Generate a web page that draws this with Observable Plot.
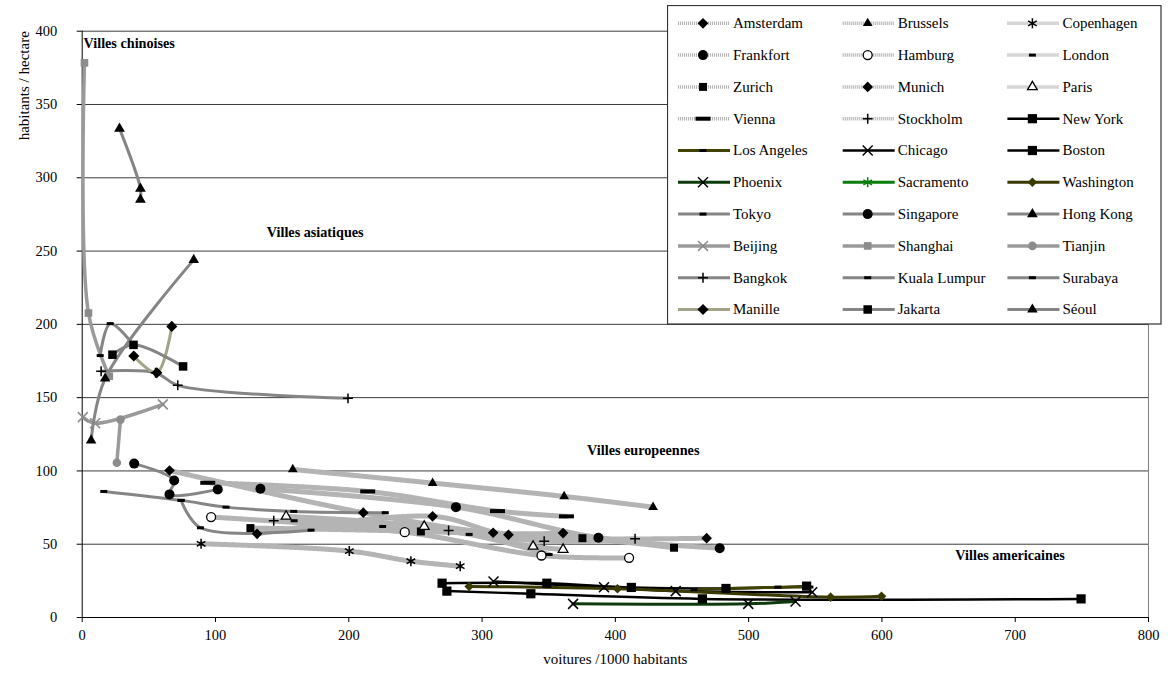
<!DOCTYPE html>
<html><head><meta charset="utf-8">
<script src="https://cdn.jsdelivr.net/npm/d3@7"></script>
<script src="https://cdn.jsdelivr.net/npm/@observablehq/plot@0.6"></script>
<style>
body{margin:0;background:#fff;}
#wrap{position:relative;width:1168px;height:674px;font-family:"Liberation Serif","Times New Roman",serif;}
#legend{position:absolute;left:667px;top:5px;}
</style></head><body><div id="wrap"></div>
<script>
// ---- data: [voitures/1000 habitants, habitants/hectare] ----
const amsterdam = [[65.5,100.3],[210.9,71.5],[308.3,57.8],[360.8,57.6]];
const brussels = [[158,101],[262.9,91.7],[361.6,82.6],[428.3,75.3]];
const copenhagen = [[89.2,50.3],[200.4,45.3],[246.6,38.4],[283.6,35]];
const frankfort = [[133.7,87.8],[280.4,75.3],[387.3,54.4],[478.3,47.3]];
const hamburg = [[96.7,68.5],[242,58.2],[344.6,42.3],[410.3,40.7]];
const london = [[159,66],[225.4,62.1],[290.3,56.7],[350.3,43]];
const zurich = [[126.2,61],[254.1,58.7],[375.3,54.1],[444,47.6]];
const munich = [[131.2,57.1],[262.9,69],[319.8,56.4],[468.5,54.1]];
const paris = [[153,69],[256.6,62.1],[338.3,48.5],[360.8,46.4]];
const vienna = [[94.2,91.9],[214.2,86],[311.6,72.6],[363.3,69]];
const stockholm = [[143.7,66],[274.9,59.4],[346.6,52.1],[414.8,53.7]];
const newYork = [[270,23.4],[348.6,23.4],[412,20.5],[483,19.8],[543.5,21.4]];
const losAngeles = [[459,19],[522,20.7],[546,20.8]];
const chicago = [[308.6,24.6],[391.5,20.7],[445.3,18],[547.7,17.3]];
const boston = [[273.6,18],[336.6,16.2],[465.3,12.7],[749.4,12.7]];
const phoenix = [[368.3,9.3],[499.7,9.3],[535.2,10.9]];
const sacramento = [];
const washington = [[290.3,21.2],[401.6,19.6],[561.5,13.9],[599.7,14.5]];
const tokyo = [[16.2,86],[74.2,79.9],[107.9,75.3],[158.7,72.4],[227.4,71.5]];
const singapore = [[39,105],[69,93.5],[65.5,84],[101.7,87.4]];
const hongKong = [[28,333.5],[43.7,292.6],[43.7,285]];
const beijing = [[0.5,136.7],[9.7,132.6],[60.5,145.4]];
const shanghai = [[1.7,378.4],[4.7,207.7],[20.3,164.6]];
const tianjin = [[28.7,135],[26,105.6]];
const bangkok = [[14.2,168],[55,167],[71.7,158.4],[199.4,149.5]];
const kualaLumpur = [[74.2,79.9],[88.7,61.2],[171.7,59.6]];
const surabaya = [[13.5,178.7],[21,200.5],[38.5,186]];
const manille = [[38.7,178.4],[56,167],[67.2,198.6]];
const jakarta = [[22.7,179.3],[38.5,186],[75.7,171.3]];
const seoul = [[6.7,120.8],[17.2,163],[83.7,244]];

const yTicks = [0,50,100,150,200,250,300,350,400];
const xTicks = [0,100,200,300,400,500,600,700,800];
const regionLabels = ["Villes chinoises","Villes asiatiques","Villes europeennes","Villes americaines"];
const regionX = [1,138.5,378.8,655.1];
const regionY = [391.6,262.6,113.9,42.3];

// ---- styles ----
const dashSmall = {draw(c){c.moveTo(-3.5,-1.5);c.lineTo(3.5,-1.5);c.lineTo(3.5,1.5);c.lineTo(-3.5,1.5);c.closePath();}};
const dashLarge = {draw(c){c.moveTo(-7.5,-2);c.lineTo(7.5,-2);c.lineTo(7.5,2);c.lineTo(-7.5,2);c.closePath();}};
const EURO = {stroke:"#b4b4b4", strokeWidth:5, strokeDasharray:"1.1 0.9"};
const ASIA = {stroke:"#858585", strokeWidth:3};
const CHINA = {stroke:"#9a9a9a", strokeWidth:3.5};
const BLACK = {stroke:"#000", strokeWidth:2.5};
const F = c => ({fill:c, stroke:"none"});
const S = c => ({fill:"none", stroke:c, strokeWidth:1.5});

const series = [
  {name:"Amsterdam", data:amsterdam, line:EURO, sym:"diamond2", r:4.8, ...F("#000")},
  {name:"Brussels", data:brussels, line:EURO, sym:"triangle", r:3.6, ...F("#000")},
  {name:"Copenhagen", data:copenhagen, line:EURO, sym:"asterisk", r:4.7, ...S("#000")},
  {name:"Frankfort", data:frankfort, line:EURO, sym:"circle", r:5, ...F("#000")},
  {name:"Hamburg", data:hamburg, line:EURO, sym:"circle", r:4.5, fill:"#fff", stroke:"#000", strokeWidth:1.3},
  {name:"London", data:london, line:EURO, sym:dashSmall, r:3, ...F("#000")},
  {name:"Zurich", data:zurich, line:EURO, sym:"square", r:4.5, ...F("#000")},
  {name:"Munich", data:munich, line:EURO, sym:"diamond2", r:4.8, ...F("#000")},
  {name:"Paris", data:paris, line:EURO, sym:"triangle", r:3.6, fill:"#fff", stroke:"#000", strokeWidth:1.3},
  {name:"Vienna", data:vienna, line:EURO, sym:dashLarge, r:3, ...F("#000")},
  {name:"Stockholm", data:stockholm, line:EURO, sym:"plus", r:3.3, ...S("#000")},
  {name:"New York", data:newYork, line:BLACK, sym:"square", r:5.2, ...F("#000")},
  {name:"Los Angeles", data:losAngeles, line:{stroke:"#424200", strokeWidth:3}, sym:dashSmall, r:3, ...F("#000")},
  {name:"Chicago", data:chicago, line:BLACK, sym:"times", r:4.6, ...S("#000")},
  {name:"Boston", data:boston, line:BLACK, sym:"square", r:5.2, ...F("#000")},
  {name:"Phoenix", data:phoenix, line:{stroke:"#0d3b0d", strokeWidth:3}, sym:"times", r:4.6, ...S("#000")},
  {name:"Sacramento", data:sacramento, line:{stroke:"#0a7d0a", strokeWidth:3}, sym:"asterisk", r:4.7, ...S("#0a7d0a")},
  {name:"Washington", data:washington, line:{stroke:"#3a3a00", strokeWidth:3}, sym:"diamond2", r:4.3, ...F("#3a3a00")},
  {name:"Tokyo", data:tokyo, line:ASIA, sym:dashSmall, r:3, ...F("#000")},
  {name:"Singapore", data:singapore, line:ASIA, sym:"circle", r:5, ...F("#000")},
  {name:"Hong Kong", data:hongKong, line:ASIA, sym:"triangle", r:4, ...F("#000")},
  {name:"Beijing", data:beijing, line:CHINA, sym:"times", r:4.6, ...S("#8c8c8c")},
  {name:"Shanghai", data:shanghai, line:CHINA, sym:"square", r:4.3, ...F("#8c8c8c")},
  {name:"Tianjin", data:tianjin, line:CHINA, sym:"circle", r:4.3, ...F("#8c8c8c")},
  {name:"Bangkok", data:bangkok, line:ASIA, sym:"plus", r:3.3, ...S("#000")},
  {name:"Kuala Lumpur", data:kualaLumpur, line:ASIA, sym:dashSmall, r:3, ...F("#000")},
  {name:"Surabaya", data:surabaya, line:ASIA, sym:dashSmall, r:3, ...F("#000")},
  {name:"Manille", data:manille, line:{stroke:"#a3a387", strokeWidth:3}, sym:"diamond2", r:5, ...F("#000")},
  {name:"Jakarta", data:jakarta, line:ASIA, sym:"square", r:4.8, ...F("#000")},
  {name:"Séoul", data:seoul, line:ASIA, sym:"triangle", r:3.9, ...F("#000")}
];

const X = d => d[0], Y = d => d[1];
const marks = [
  Plot.gridY(yTicks.filter(d => d > 0), {stroke:"#3c3c3c", strokeOpacity:1}),
  Plot.ruleX([800], {stroke:"#808080"}),
  Plot.ruleX([0], {stroke:"#000"}),
  Plot.ruleY([0], {stroke:"#000"}),
  Plot.axisY({ticks:yTicks, tickSize:5, tickPadding:20, label:null, fontSize:14.5}),
  Plot.axisX({ticks:xTicks, tickSize:5, tickPadding:7, label:null, fontSize:14.5}),
  ...series.map(s => Plot.line(s.data, {x:X, y:Y, curve:"catmull-rom", ...s.line})),
  ...series.map(s => Plot.dot(s.data, {x:X, y:Y, symbol:s.sym, r:s.r, fill:s.fill, stroke:s.stroke, strokeWidth:s.strokeWidth ?? 1})),
  Plot.text(regionLabels, {x:(d,i)=>regionX[i], y:(d,i)=>regionY[i], text:d=>d, textAnchor:"start", fontWeight:"bold", fontSize:14.2}),
  Plot.text(["habitants / hectare"], {frameAnchor:"top-left", rotate:-90, textAnchor:"end", dx:-63.7, dy:0, fontSize:15}),
  Plot.text(["voitures /1000 habitants"], {frameAnchor:"bottom", dy:46, fontSize:15})
];

const chart = Plot.plot({
  width:1168, height:674,
  marginLeft:81.7, marginRight:20, marginTop:30.7, marginBottom:57,
  x:{domain:[0,800]}, y:{domain:[0,400]},
  style:{fontFamily:"'Liberation Serif','Times New Roman',serif", fontSize:"14.5px", color:"#000", background:"#fff"},
  marks
});
const wrap = document.getElementById("wrap");
wrap.appendChild(chart);

// ---- legend (overlay, top right) ----
const symTypes = {circle:d3.symbolCircle, square:d3.symbolSquare, diamond2:d3.symbolDiamond2, triangle:d3.symbolTriangle, times:d3.symbolTimes, plus:d3.symbolPlus, asterisk:d3.symbolAsterisk};
const LW = 495, LH = 320;
const lg = d3.select(wrap).append("svg").attr("id","legend").attr("width",LW).attr("height",LH)
  .style("font-family","'Liberation Serif','Times New Roman',serif").style("font-size","15px");
lg.append("rect").attr("x",0.5).attr("y",0.5).attr("width",LW-1.5).attr("height",LH-1.5).attr("fill","#fff").attr("stroke","#333").attr("stroke-width",1.2);
series.forEach((s,i) => {
  const col = i % 3, row = Math.floor(i / 3);
  const x0 = 11 + col*164.7, cy = 18.3 + row*31.8;
  const g = lg.append("g").attr("transform",`translate(${x0},${cy})`);
  const lw = s.line === EURO ? 3.5 : s.line.strokeWidth;
  g.append("line").attr("x1",0).attr("x2",52).attr("y1",0).attr("y2",0)
    .attr("stroke",s.line.stroke).attr("stroke-width",lw).attr("stroke-dasharray",s.line.strokeDasharray || null);
  const type = typeof s.sym === "string" ? symTypes[s.sym] : s.sym;
  g.append("path").attr("transform","translate(25,0)").attr("d",d3.symbol(type, Math.PI*s.r*s.r)())
    .attr("fill",s.fill).attr("stroke",s.stroke).attr("stroke-width",s.strokeWidth ?? 1);
  g.append("text").attr("x",55).attr("y",0).attr("dy","0.33em").text(s.name);
});
</script></body></html>
